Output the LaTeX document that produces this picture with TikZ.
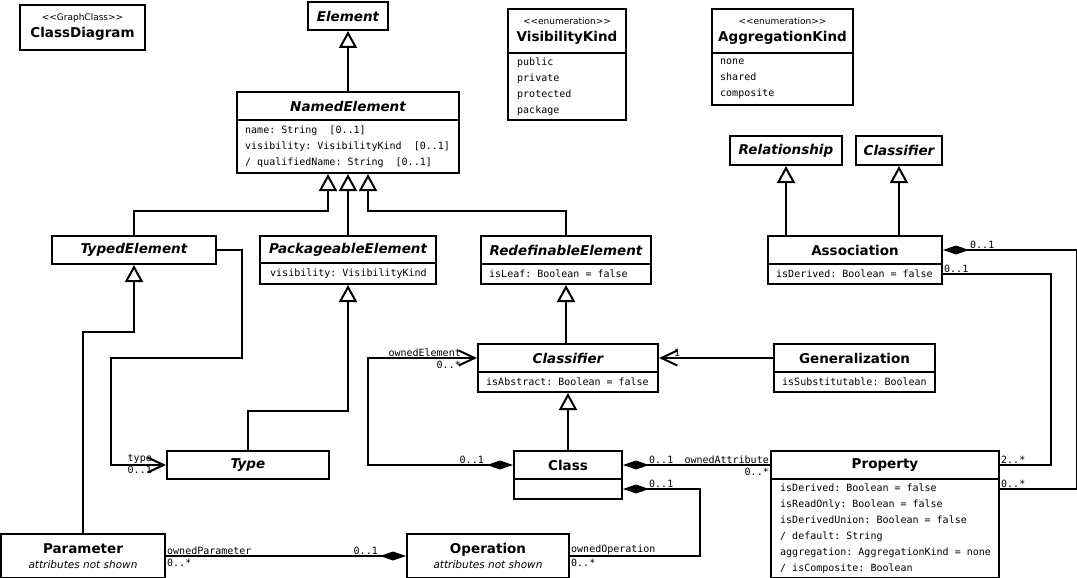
\documentclass[tikz,border=0pt]{standalone}
\usepackage{fontspec}
\setmainfont{DejaVu Sans}
\newfontfamily\umlmono[WordSpace={1,0,0}]{DejaVu Sans Mono}
\usetikzlibrary{arrows.meta,calc}

% stereotype line and italic note line used inside class headers
\newcommand\stereo[1]{{\normalfont\fontsize{9pt}{11pt}\selectfont <\kern0pt<#1>\kern0pt>}}
\newcommand\note[1]{{\normalfont\itshape\fontsize{10.5pt}{12pt}\selectfont #1}}
% two monospaced blanks
\newcommand\twoblanks{\ \ }

\tikzset{
  head/.style={draw, line width=2pt, inner sep=0pt, anchor=north west, align=center,
    font=\fontsize{13.5pt}{17pt}\selectfont\bfseries},
  abstracthead/.style={head, font=\fontsize{13.5pt}{17pt}\selectfont\bfseries\itshape},
  attrs/.style={draw, line width=2pt, inner sep=0pt, anchor=north west},
  attrtext/.style={inner sep=0pt, anchor=west, align=left,
    font=\umlmono\fontsize{10pt}{16pt}\selectfont\frenchspacing},
  role/.style={inner sep=1pt, font=\umlmono\fontsize{10pt}{12pt}\selectfont\frenchspacing},
  gen/.style={line width=2pt, -{Triangle[open, length=17pt, width=18pt]}},
  nav/.style={line width=2pt, -{Straight Barb[length=16pt, width=15pt]}},
  plain/.style={line width=2pt},
  compnav/.style={line width=2pt, {Diamond[length=26pt, width=9pt]}-{Straight Barb[length=16pt, width=15pt]}},
  comp/.style={line width=2pt, {Diamond[length=26pt, width=9pt]}-},
}

\begin{document}
\frenchspacing
\begin{tikzpicture}[x=1pt, y=-1pt]
\useasboundingbox (0,0) rectangle (1077,578);

% ---- top row ----
\node[head, minimum width=125pt, minimum height=45pt] (cd) at (19,4)
  {\stereo{GraphClass}\\[0pt]ClassDiagram};
\node[abstracthead, minimum width=80pt, minimum height=28pt] (el) at (307,1) {Element};

\node[head, minimum width=118pt, minimum height=44pt] (vk) at (507,8)
  {\stereo{enumeration}\\[0pt]VisibilityKind};
\node[attrs, minimum width=118pt, minimum height=67pt] (vka) at (507,52) {};
\node[attrtext] (vka-t) at ($(vka.west)+(10,0)$) {public\\private\\protected\\package};

\node[head, minimum width=141pt, minimum height=44pt] (ak) at (711,8)
  {\stereo{enumeration}\\[0pt]AggregationKind};
\node[attrs, minimum width=141pt, minimum height=52pt] (aka) at (711,52) {};
\node[attrtext] (aka-t) at ($(aka.west)+(9,0)$) {none\\shared\\composite};

% ---- NamedElement ----
\node[abstracthead, minimum width=222pt, minimum height=28pt] (ne) at (236,91) {NamedElement};
\node[attrs, minimum width=222pt, minimum height=53pt] (nea) at (236,119) {};
\node[attrtext] (nea-t) at ($(nea.west)+(9,0)$)
  {name: String\twoblanks[0..1]\\visibility: VisibilityKind\twoblanks[0..1]\\/ qualifiedName: String\twoblanks[0..1]};

\node[abstracthead, minimum width=112pt, minimum height=29pt] (rel) at (729,135) {Relationship};
\node[abstracthead, minimum width=86pt, minimum height=29pt] (clr) at (855,135) {Classifier};

% ---- second row ----
\node[abstracthead, minimum width=164pt, minimum height=28pt] (te) at (51,235) {TypedElement};

\node[abstracthead, minimum width=176pt, minimum height=27pt] (pe) at (259,235) {PackageableElement};
\node[attrs, minimum width=176pt, minimum height=21pt] (pea) at (259,262) {};
\node[attrtext] (pea-t) at ($(pea.west)+(11,0)$) {visibility: VisibilityKind};

\node[abstracthead, minimum width=170pt, minimum height=28pt] (re) at (480,235) {RedefinableElement};
\node[attrs, minimum width=170pt, minimum height=20pt] (rea) at (480,263) {};
\node[attrtext] (rea-t) at ($(rea.west)+(9,0)$) {isLeaf: Boolean = false};

\node[head, minimum width=174pt, minimum height=28pt] (as) at (767,235) {Association};
\node[attrs, minimum width=174pt, minimum height=20pt] (asa) at (767,263) {};
\node[attrtext] (asa-t) at ($(asa.west)+(9,0)$) {isDerived: Boolean = false};

% ---- third row ----
\node[abstracthead, minimum width=180pt, minimum height=28pt] (cl) at (477,343) {Classifier};
\node[attrs, minimum width=180pt, minimum height=20pt] (cla) at (477,371) {};
\node[attrtext] (cla-t) at ($(cla.west)+(9,0)$) {isAbstract: Boolean = false};

\node[head, minimum width=161pt, minimum height=28pt] (ge) at (773,343) {Generalization};
\node[attrs, minimum width=161pt, minimum height=20pt] (gea) at (773,371) {};
\node[attrtext] (gea-t) at ($(gea.west)+(9,0)$) {isSubstitutable: Boolean};

% ---- fourth row ----
\node[abstracthead, minimum width=162pt, minimum height=28pt] (ty) at (166,450) {Type};

\node[head, minimum width=108pt, minimum height=28pt] (cs) at (513,450) {Class};
\node[attrs, minimum width=108pt, minimum height=20pt] (csa) at (513,478) {};

\node[head, minimum width=228pt, minimum height=28pt] (pr) at (770,450) {Property};
\node[attrs, minimum width=228pt, minimum height=99pt] (pra) at (770,478) {};
\node[attrtext] (pra-t) at ($(pra.west)+(10,0)$)
  {isDerived: Boolean = false\\isReadOnly: Boolean = false\\isDerivedUnion: Boolean = false\\
   / default: String\\aggregation: AggregationKind = none\\/ isComposite: Boolean};

% ---- bottom row ----
\node[head, minimum width=164pt, minimum height=44pt] (pa) at (0,533)
  {Parameter\\[-2pt]\note{attributes not shown}};
\node[head, minimum width=162pt, minimum height=44pt] (op) at (406,533)
  {Operation\\[-2pt]\note{attributes not shown}};

% ---- generalizations ----
\coordinate (ne-l) at ([xshift=-20pt]nea.south);
\coordinate (ne-r) at ([xshift=20pt]nea.south);
\draw[gen] (ne.north -| el.south) -- (el.south);
\draw[gen] (te.north) |- ($(ne-l)+(0,37)$) -- (ne-l);
\draw[gen] (pe.north) -- (pe.north |- nea.south);
\draw[gen] (re.north) |- ($(ne-r)+(0,37)$) -- (ne-r);
\draw[gen] (pa.north) |- ($(te.south)+(0,67)$) -- (te.south);
\draw[gen] (ty.north) |- ($(pea.south)+(0,126)$) -- (pea.south);
\draw[gen] (cl.north -| rea.south) -- (rea.south);
\draw[gen] (cs.north) -- (cs.north |- cla.south);
\draw[gen] (as.north -| rel.south) -- (rel.south);
\draw[gen] (as.north -| clr.south) -- (clr.south);

% ---- associations ----
\draw[nav] (te.east) -- ++(25,0) -- ++(0,108) -- ++(-131,0) |- (ty.west);
\node[role, anchor=south east] (l-type) at ($(ty.west)+(-13,0)$) {type};
\node[role, anchor=north east] (l-type-m) at ($(ty.west)+(-13,0)$) {0..1};

\draw[compnav] (cs.west) -- ++(-145,0) |- (cl.west);
\node[role, anchor=south east] (l-oe) at ($(cl.west)+(-15,0)$) {ownedElement};
\node[role, anchor=north east] (l-oe-m) at ($(cl.west)+(-15,2)$) {0..*};
\node[role, anchor=south east] (l-oe-c) at ($(cs.west)+(-28,0)$) {0..1};

\draw[nav] (ge.west) -- (ge.west -| cl.east);
\node[role, anchor=south west] (l-gen) at ($(cl.east)+(14,0)$) {1};

\draw[comp] (cs.east) -- (cs.east -| pr.west);
\node[role, anchor=south west] (l-oa-c) at ($(cs.east)+(25,0)$) {0..1};
\node[role, anchor=south east] (l-oa) at (pr.west) {ownedAttribute};
\node[role, anchor=north east] (l-oa-m) at ($(pr.west)+(0,2)$) {0..*};

\draw[comp] (csa.east) -- ++(77,0) |- (op.east);
\node[role, anchor=south west] (l-oo-c) at ($(csa.east)+(25,0)$) {0..1};
\node[role, anchor=south west] (l-oo) at (op.east) {ownedOperation};
\node[role, anchor=north west] (l-oo-m) at ($(op.east)+(0,2)$) {0..*};

\draw[comp] (op.west) -- (pa.east);
\node[role, anchor=south west] (l-op) at (pa.east) {ownedParameter};
\node[role, anchor=north west] (l-op-m) at ($(pa.east)+(0,2)$) {0..*};
\node[role, anchor=south east] (l-op-c) at ($(op.west)+(-27,0)$) {0..1};

\draw[comp] (as.east) -- ++(134,0) |- ($(pr.east)+(0,24)$);
\node[role, anchor=south west] (l-as1) at ($(as.east)+(26,0)$) {0..1};
\node[role, anchor=south west] (l-end2) at ($(pr.east)+(0,24)$) {0..*};

\draw[plain] (asa.east) -- ++(108,0) |- (pr.east);
\node[role, anchor=south west] (l-as2) at (asa.east) {0..1};
\node[role, anchor=south west] (l-end1) at (pr.east) {2..*};
\end{tikzpicture}
\end{document}
